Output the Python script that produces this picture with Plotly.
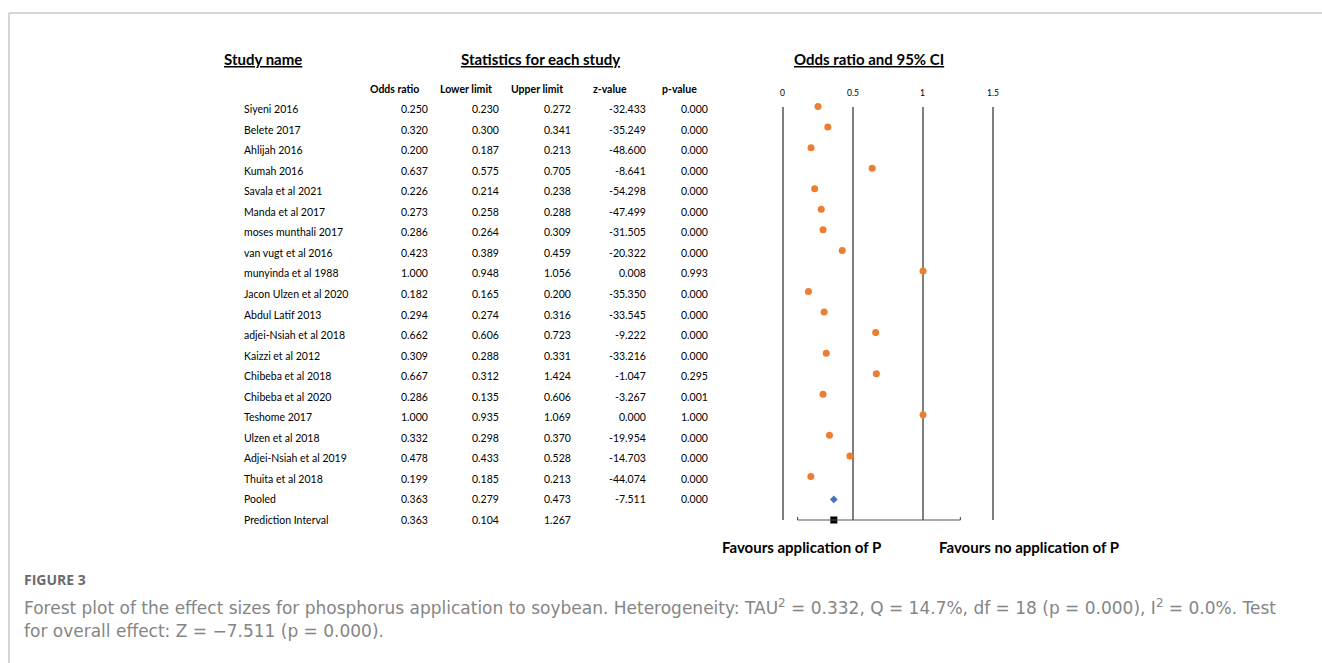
import plotly.graph_objects as go

studies = ["Siyeni 2016", "Belete 2017", "Ahlijah 2016", "Kumah 2016", "Savala et al 2021",
           "Manda et al 2017", "moses munthali 2017", "van vugt et al 2016", "munyinda et al 1988",
           "Jacon Ulzen et al 2020", "Abdul Latif 2013", "adjei-Nsiah et al 2018", "Kaizzi et al 2012",
           "Chibeba et al 2018", "Chibeba et al 2020", "Teshome 2017", "Ulzen et al 2018",
           "Adjei-Nsiah et al 2019", "Thuita et al 2018", "Pooled", "Prediction Interval"]
odds_ratio = [0.250, 0.320, 0.200, 0.637, 0.226, 0.273, 0.286, 0.423, 1.000, 0.182, 0.294, 0.662,
              0.309, 0.667, 0.286, 1.000, 0.332, 0.478, 0.199, 0.363, 0.363]
lower_limit = [0.230, 0.300, 0.187, 0.575, 0.214, 0.258, 0.264, 0.389, 0.948, 0.165, 0.274, 0.606,
               0.288, 0.312, 0.135, 0.935, 0.298, 0.433, 0.185, 0.279, 0.104]
upper_limit = [0.272, 0.341, 0.213, 0.705, 0.238, 0.288, 0.309, 0.459, 1.056, 0.200, 0.316, 0.723,
               0.331, 1.424, 0.606, 1.069, 0.370, 0.528, 0.213, 0.473, 1.267]
z_value = [-32.433, -35.249, -48.600, -8.641, -54.298, -47.499, -31.505, -20.322, 0.008, -35.350,
           -33.545, -9.222, -33.216, -1.047, -3.267, 0.000, -19.954, -14.703, -44.074, -7.511, None]
p_value = [0.000, 0.000, 0.000, 0.000, 0.000, 0.000, 0.000, 0.000, 0.993, 0.000, 0.000, 0.000,
           0.000, 0.295, 0.001, 1.000, 0.000, 0.000, 0.000, 0.000, None]
col_headers = ["Odds ratio", "Lower limit", "Upper limit", "z-value", "p-value"]
axis_ticks = [0, 0.5, 1, 1.5]
axis_ticktext = ["0", "0.5", "1", "1.5"]

W, H = 1322, 663
ROW0, ROWH = 109, 20.55
ZERO_PX, PX_PER_UNIT = 783, 140
DOM_L, DOM_R = 700, 1200

def px(x):
    return x / W

def py(y):
    return 1 - y / H

n = len(studies)
rows = list(range(n))
n_studies = n - 2

FONT = "Lato, Calibri, Arial, sans-serif"
fig = go.Figure()

# study points
fig.add_trace(go.Scatter(
    x=odds_ratio[:n_studies], y=[r - 0.12 for r in rows[:n_studies]], mode="markers",
    marker=dict(color="#ED7D31", size=7, symbol="circle"),
    xaxis="x", yaxis="y", showlegend=False, hoverinfo="skip"))
# pooled
fig.add_trace(go.Scatter(
    x=[odds_ratio[n - 2]], y=[rows[n - 2]], mode="markers",
    marker=dict(color="#4472C4", size=6, symbol="diamond"),
    showlegend=False, hoverinfo="skip"))
# prediction interval
fig.add_trace(go.Scatter(
    x=[odds_ratio[n - 1]], y=[rows[n - 1]], mode="markers",
    marker=dict(color="#000000", size=7, symbol="square"),
    showlegend=False, hoverinfo="skip"))

shapes = []
# vertical grid lines
for t in axis_ticks:
    shapes.append(dict(type="line", xref="x", yref="y", x0=t, x1=t, y0=-0.1, y1=rows[-1],
                       line=dict(color="#3a3a3a", width=1.3), layer="below"))
# prediction interval line with end ticks
pi_lo, pi_hi = lower_limit[-1], upper_limit[-1]
shapes.append(dict(type="line", xref="x", yref="y", x0=pi_lo, x1=pi_hi, y0=rows[-1], y1=rows[-1],
                   line=dict(color="#555555", width=1.2)))
for xe in (pi_lo, pi_hi):
    shapes.append(dict(type="line", xref="x", yref="y", x0=xe, x1=xe, y0=rows[-1], y1=rows[-1] - 0.15,
                       line=dict(color="#555555", width=1.2)))
# figure frame (top + left)
shapes.append(dict(type="line", xref="paper", yref="paper", x0=px(9), x1=1, y0=py(13), y1=py(13),
                   line=dict(color="#c8c8c8", width=1.5)))
shapes.append(dict(type="line", xref="paper", yref="paper", x0=px(9), x1=px(9), y0=py(13), y1=0,
                   line=dict(color="#c8c8c8", width=1.5)))

ann = []
def txt(text, x, y, size=10, xanchor="left", bold=False, color="#000000", yref="paper", font=FONT, xref="paper"):
    t = f"<b>{text}</b>" if bold else text
    ann.append(dict(text=t, x=x, y=y, xref=xref, yref=yref, xanchor=xanchor, yanchor="middle",
                    showarrow=False, font=dict(family=font, size=size, color=color)))

# section headers
txt("<u>Study name</u>", px(222), py(59), size=15, bold=True)
txt("<u>Statistics for each study</u>", px(540), py(59), size=15, xanchor="center", bold=True)
txt("<u>Odds ratio and 95% CI</u>", px(869), py(59), size=15, xanchor="center", bold=True)

# column headers
col_centers = [394, 466, 537, 610, 679]
for h, c in zip(col_headers, col_centers):
    txt(h, px(c), py(89), size=10.5, xanchor="center", bold=True)

# table body
col_rights = [430, 501, 573, 648, 710]
columns = [odds_ratio, lower_limit, upper_limit, z_value, p_value]
for r in rows:
    txt(studies[r], px(242), r, size=10.5, yref="y")
    for col, right in zip(columns, col_rights):
        v = col[r]
        if v is None:
            continue
        txt(f"{v:.3f}", px(right), r, size=10.5, xanchor="right", yref="y")

# axis tick labels
for t, tt in zip(axis_ticks, axis_ticktext):
    txt(tt, t, py(93), size=8.5, xanchor="center", xref="x")

# favours labels
txt("Favours application of P", px(801), py(547), size=15, xanchor="center", bold=True)
txt("Favours no application of P", px(1029), py(547), size=15, xanchor="center", bold=True)

# caption
CAP = "DejaVu Sans, Open Sans, sans-serif"
txt("FIGURE 3", px(22), py(579), size=14, color="#6b6b6b", font="Open Sans, DejaVu Sans, sans-serif", bold=True)
txt("Forest plot of the effect sizes for phosphorus application to soybean. Heterogeneity: TAU<sup>2</sup> = 0.332, "
    "Q = 14.7%, df = 18 (p = 0.000), I<sup>2</sup> = 0.0%. Test", px(22), py(607), size=17, color="#858585", font=CAP)
txt("for overall effect: Z = \u22127.511 (p = 0.000).", px(22), py(631), size=17, color="#858585", font=CAP)

fig.update_layout(
    width=W, height=H, margin=dict(l=0, r=0, t=0, b=0),
    paper_bgcolor="white", plot_bgcolor="rgba(0,0,0,0)",
    xaxis=dict(domain=[px(DOM_L), px(DOM_R)],
               range=[(DOM_L - ZERO_PX) / PX_PER_UNIT, (DOM_R - ZERO_PX) / PX_PER_UNIT],
               visible=False, fixedrange=True),
    yaxis=dict(domain=[0, 1], range=[(H - ROW0) / ROWH, -ROW0 / ROWH], visible=False, fixedrange=True),
    shapes=shapes, annotations=ann, showlegend=False,
)

fig.write_html("out.html", config={"displayModeBar": False},
               post_script="document.body.style.margin='0';document.body.style.overflow='hidden';")
